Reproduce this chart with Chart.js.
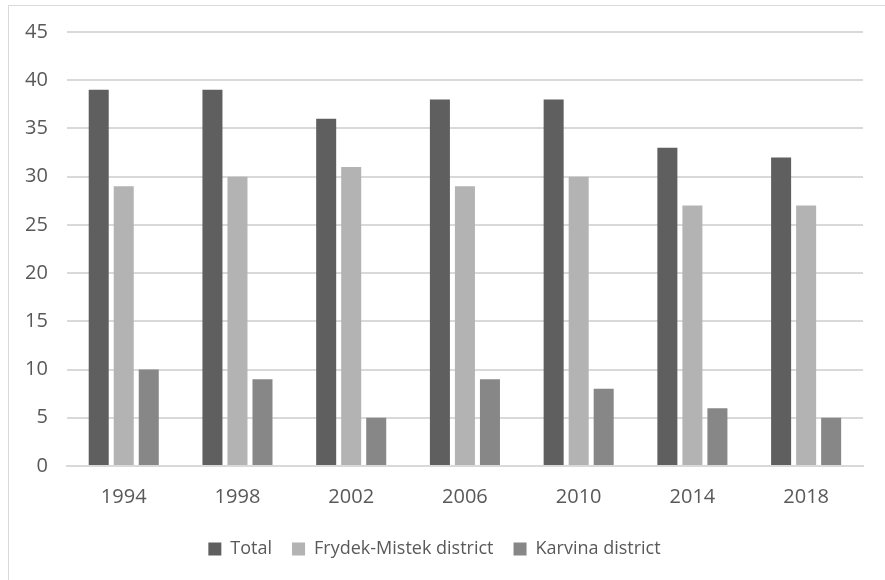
<!DOCTYPE html>
<html>
<head>
<meta charset="utf-8">
<script src="https://cdn.jsdelivr.net/npm/chart.js@4.4.1/dist/chart.umd.min.js"></script>
<style>
  html, body { margin: 0; padding: 0; background: #fff; }
  #wrap { position: relative; width: 885px; height: 580px; overflow: hidden; }
  #frame { position: absolute; left: 8px; top: 5px; width: 900px; height: 600px; border-left: 1px solid #d9d9d9; border-top: 1px solid #d9d9d9; }
  canvas { position: absolute; left: 0; top: 0; }
</style>
</head>
<body>
<div id="wrap">
  <div id="frame"></div>
  <canvas id="chart" width="885" height="580"></canvas>
</div>
<script>
const years = ['1994', '1998', '2002', '2006', '2010', '2014', '2018'];
const total = [39, 39, 36, 38, 38, 33, 32];
const frydekMistek = [29, 30, 31, 29, 30, 27, 27];
const karvina = [10, 9, 5, 9, 8, 6, 5];

const font = "'Open Sans', 'Noto Sans', sans-serif";

var ctx = document.getElementById('chart').getContext('2d');
var myChart = new Chart(ctx, {
	type: 'bar',
	data: {
		labels: years,
		datasets: [{
			label: 'Total',
			data: total,
			backgroundColor: '#5f5f5f'
		}, {
			label: 'Frydek-Mistek district',
			data: frydekMistek,
			backgroundColor: '#b3b3b3'
		}, {
			label: 'Karvina district',
			data: karvina,
			backgroundColor: '#878787'
		}]
	},
	options: {
		responsive: false,
		animation: false,
		datasets: {
			bar: { categoryPercentage: 0.66, barPercentage: 0.8 }
		},
		layout: { padding: { left: 6, right: 22, top: 32, bottom: 12 } },
		scales: {
			x: {
				grid: { display: false },
				border: { color: '#d9d9d9', width: 2 },
				ticks: { color: '#595959', font: { family: font, size: 20 }, padding: 11 }
			},
			y: {
				min: 0,
				max: 45,
				ticks: { stepSize: 5, color: '#595959', font: { family: font, size: 20 }, padding: 19 },
				grid: { color: '#d9d9d9', lineWidth: 2, drawTicks: false },
				border: { display: false }
			}
		},
		plugins: {
			legend: {
				position: 'bottom',
				labels: {
					color: '#595959',
					font: { family: font, size: 18 },
					boxWidth: 13,
					boxHeight: 13,
					padding: 20
				}
			},
			tooltip: { enabled: false }
		}
	}
});
</script>
</body>
</html>
